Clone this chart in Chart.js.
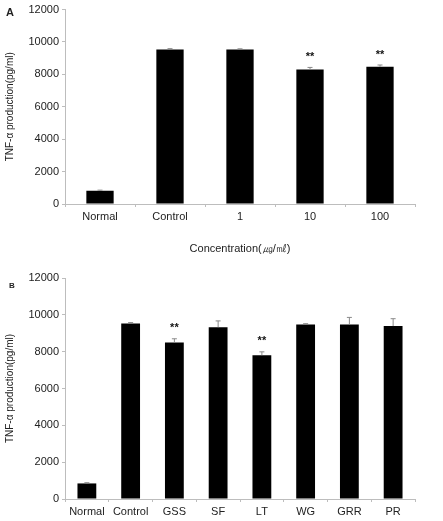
<!DOCTYPE html>
<html>
<head>
<meta charset="utf-8">
<script src="https://cdn.jsdelivr.net/npm/chart.js@4"></script>
<style>
  body { margin: 0; background: #fff; }
  .panel { position: absolute; left: 0; width: 443px; }
  .tag { position: absolute; font: bold 11px "Liberation Sans", Arial, sans-serif; color: #222; }
</style>
</head>
<body>
<div class="panel" style="top:0;height:258px"><canvas id="chartA" width="443" height="258"></canvas></div>
<div class="panel" style="top:258px;height:263px"><canvas id="chartB" width="443" height="263"></canvas></div>
<div class="tag" style="left:6px;top:6px">A</div>
<div class="tag" style="left:9px;top:281px;font-size:8px">B</div>
<script>
const yTicks = [0, 2000, 4000, 6000, 8000, 10000, 12000];

const concLabels = ["Normal", "Control", "1", "10", "100"];
const concValues = [815, 9530, 9530, 8310, 8470];
const concErrors = [40, 60, 50, 120, 110];
const concStars = ["", "", "", "**", "**"];

const extractLabels = ["Normal", "Control", "GSS", "SF", "LT", "WG", "GRR", "PR"];
const extractValues = [845, 9530, 8500, 9330, 7810, 9480, 9480, 9390];
const extractErrors = [40, 50, 200, 340, 180, 40, 380, 400];
const extractStars = ["", "", "**", "", "**", "", "", ""];

const font = "'Liberation Sans', Arial, sans-serif";

const errorBars = {
  id: "errorBars",
  afterDatasetsDraw(chart, args, opts) {
    const { ctx, scales: { y } } = chart;
    const meta = chart.getDatasetMeta(0);
    ctx.save();
    ctx.strokeStyle = "#8a8a8a";
    ctx.lineWidth = 1;
    opts.errors.forEach((err, i) => {
      const bar = meta.data[i];
      const v = chart.data.datasets[0].data[i];
      const top = y.getPixelForValue(v + err);
      const base = y.getPixelForValue(v);
      ctx.beginPath();
      ctx.moveTo(bar.x, base);
      ctx.lineTo(bar.x, top);
      ctx.moveTo(bar.x - 2.5, top);
      ctx.lineTo(bar.x + 2.5, top);
      ctx.stroke();
      if (opts.stars[i]) {
        ctx.fillStyle = "#111";
        ctx.font = "bold 11px " + font;
        ctx.textAlign = "center";
        ctx.textBaseline = "bottom";
        ctx.fillText(opts.stars[i], bar.x, top - 5);
      }
    });
    ctx.restore();
  }
};

function makeChart(id, labels, values, errors, stars, opt) {
  new Chart(document.getElementById(id), {
    type: "bar",
    data: {
      labels: labels,
      datasets: [{
        data: values,
        backgroundColor: "#000",
        borderWidth: 0,
        categoryPercentage: 1,
        barPercentage: opt.barPct,
      }],
    },
    plugins: [errorBars],
    options: {
      responsive: false,
      animation: false,
      layout: { padding: { top: opt.top, right: 28, left: 0, bottom: 0 } },
      plugins: {
        legend: { display: false },
        tooltip: { enabled: false },
        errorBars: { errors: errors, stars: stars },
      },
      scales: {
        x: {
          afterFit: s => { s.height = opt.xHeight; },
          grid: { drawOnChartArea: false, drawTicks: true, tickLength: 3, color: "#bdbdbd" },
          border: { color: "#bdbdbd" },
          ticks: { color: "#222", font: { family: font, size: 11 }, padding: 3 },
          title: {
            display: !!opt.xTitle,
            text: opt.xTitle || "",
            color: "#222",
            font: { family: font, size: 11 },
            padding: { top: 0, bottom: 2 },
          },
        },
        y: {
          min: 0,
          max: 12000,
          afterFit: s => { s.width = 65; },
          afterBuildTicks: s => { s.ticks = yTicks.map(v => ({ value: v })); },
          grid: { drawOnChartArea: false, drawTicks: true, tickLength: 3, color: "#bdbdbd" },
          border: { color: "#bdbdbd" },
          ticks: { color: "#222", font: { family: font, size: 11 }, padding: 3, callback: v => String(v) },
          title: {
            display: true,
            text: "TNF-α production(pg/ml)",
            color: "#222",
            font: { family: font, size: 10 },
            padding: { top: 4, bottom: 0 },
          },
        },
      },
    },
  });
}

makeChart("chartA", concLabels, concValues, concErrors, concStars,
  { top: 8, xHeight: 54, barPct: 0.39, xTitle: "Concentration(㎍/㎖)" });
makeChart("chartB", extractLabels, extractValues, extractErrors, extractStars,
  { top: 20, xHeight: 22, barPct: 0.43 });
</script>
</body>
</html>
